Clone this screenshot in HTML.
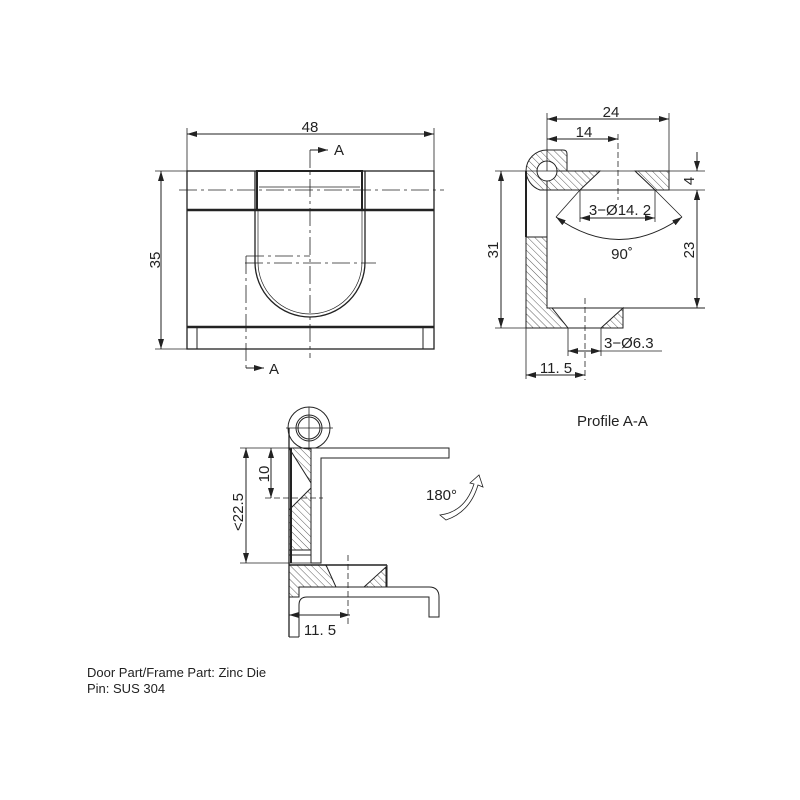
<!DOCTYPE html>
<html><head><meta charset="utf-8"><style>
html,body{margin:0;padding:0;background:#fff}
svg{display:block}
text{font-family:"Liberation Sans",sans-serif;fill:#222}
</style></head><body>
<svg width="800" height="800" viewBox="0 0 800 800" xmlns="http://www.w3.org/2000/svg">
<defs>
<pattern id="h" patternUnits="userSpaceOnUse" width="5" height="5" patternTransform="rotate(-45)">
<line x1="0" y1="0" x2="0" y2="5" stroke="#333" stroke-width="0.8"/>
</pattern>
<marker id="a" viewBox="0 0 10 6" refX="10" refY="3" markerWidth="10" markerHeight="6" orient="auto-start-reverse" markerUnits="userSpaceOnUse">
<path d="M0,0 L10,3 L0,6z" fill="#222"/></marker>
</defs>
<g stroke="#222" fill="none" stroke-width="1">
<!-- FRONT VIEW -->
<rect x="187" y="171" width="247" height="178" stroke-width="1.3"/>
<line x1="187" y1="210" x2="434" y2="210" stroke-width="2.5"/>
<line x1="187" y1="327" x2="434" y2="327" stroke-width="2.5"/>
<line x1="197" y1="327" x2="197" y2="349"/>
<line x1="423" y1="327" x2="423" y2="349"/>
<rect x="257" y="171" width="105" height="39" stroke-width="2"/>
<line x1="259" y1="187" x2="360" y2="187" stroke-width="0.8"/>
<path d="M255,171 V262 A55,55 0 0 0 365,262 V171" stroke-width="1.3"/>
<path d="M258,210 V262 A52,52 0 0 0 362,262 V210" stroke-width="0.7"/>
<g stroke-dasharray="18,4,3,4" stroke-width="0.8">
<line x1="179" y1="190" x2="444" y2="190"/>
<line x1="245" y1="263" x2="376" y2="263"/>
<line x1="310" y1="150" x2="310" y2="358"/>
<line x1="246" y1="256" x2="246" y2="368"/>
</g>
<line x1="246" y1="256" x2="310" y2="256" stroke-dasharray="18,4,3,4" stroke-width="0.8"/>
<line x1="310" y1="150" x2="328" y2="150" marker-end="url(#a)"/>
<line x1="246" y1="368" x2="264" y2="368" marker-end="url(#a)"/>
<line x1="187" y1="128" x2="187" y2="171" stroke-width="0.8"/>
<line x1="434" y1="128" x2="434" y2="171" stroke-width="0.8"/>
<line x1="187" y1="134" x2="434" y2="134" marker-start="url(#a)" marker-end="url(#a)"/>
<line x1="155" y1="171" x2="187" y2="171" stroke-width="0.8"/>
<line x1="155" y1="349" x2="187" y2="349" stroke-width="0.8"/>
<line x1="161" y1="171" x2="161" y2="349" marker-start="url(#a)" marker-end="url(#a)"/>

<!-- PROFILE A-A -->
<path d="M547,171 H600 L580,190 H547 Z" fill="url(#h)"/>
<path d="M635,171 H669 V190 H655 Z" fill="url(#h)"/>
<path d="M526,171 A21,21 0 0 1 547,150 H563 Q567,150 567,154 V171 H547 V190 H540 A21,21 0 0 1 526,171 Z" fill="url(#h)"/>
<circle cx="547" cy="171" r="10" fill="#fff"/>
<path d="M526,237 H547 V308 H552 L568,328 H526 Z" fill="url(#h)"/>
<path d="M601,328 L623,308 V328 Z" fill="url(#h)"/>
<line x1="526" y1="171" x2="526" y2="237" stroke-width="2"/>
<line x1="526" y1="237" x2="547" y2="237"/>
<line x1="547" y1="190" x2="547" y2="308"/>
<line x1="547" y1="190" x2="669" y2="190"/>
<line x1="547" y1="308" x2="705" y2="308"/>
<line x1="526" y1="328" x2="623" y2="328"/>
<line x1="495" y1="171" x2="705" y2="171" stroke-width="0.8"/>
<line x1="669" y1="190" x2="705" y2="190" stroke-width="0.8"/>
<line x1="495" y1="328" x2="526" y2="328" stroke-width="0.8"/>
<line x1="547" y1="113" x2="547" y2="171" stroke-width="0.8"/>
<line x1="669" y1="113" x2="669" y2="171" stroke-width="0.8"/>
<line x1="547" y1="119" x2="669" y2="119" marker-start="url(#a)" marker-end="url(#a)"/>
<line x1="547" y1="139" x2="618" y2="139" marker-start="url(#a)" marker-end="url(#a)"/>
<line x1="618" y1="134" x2="618" y2="200" stroke-dasharray="6,3" stroke-width="0.8"/>
<line x1="501" y1="171" x2="501" y2="328" marker-start="url(#a)" marker-end="url(#a)"/>
<line x1="697" y1="152" x2="697" y2="171" marker-end="url(#a)"/>
<line x1="697" y1="200" x2="697" y2="190" marker-end="url(#a)"/>
<line x1="697" y1="190" x2="697" y2="308" marker-start="url(#a)" marker-end="url(#a)"/>
<line x1="580" y1="190" x2="556" y2="217" stroke-width="0.8"/>
<line x1="655" y1="190" x2="682" y2="217" stroke-width="0.8"/>
<path d="M556,217 Q619,262 682,217" marker-start="url(#a)" marker-end="url(#a)"/>
<line x1="580" y1="190" x2="580" y2="222" stroke-width="0.8"/>
<line x1="655" y1="190" x2="655" y2="222" stroke-width="0.8"/>
<line x1="580" y1="218" x2="655" y2="218" marker-start="url(#a)" marker-end="url(#a)"/>
<line x1="585" y1="298" x2="585" y2="380" stroke-dasharray="6,3" stroke-width="0.8"/>
<line x1="568" y1="328" x2="568" y2="356" stroke-width="0.8"/>
<line x1="601" y1="328" x2="601" y2="356" stroke-width="0.8"/>
<line x1="568" y1="351" x2="601" y2="351" marker-start="url(#a)" marker-end="url(#a)"/>
<line x1="601" y1="351" x2="662" y2="351" stroke-width="0.8"/>
<line x1="526" y1="328" x2="526" y2="379" stroke-width="0.8"/>
<line x1="526" y1="375" x2="585" y2="375" marker-start="url(#a)" marker-end="url(#a)"/>

<!-- BOTTOM VIEW -->
<circle cx="309" cy="428" r="21"/>
<circle cx="309" cy="428" r="13"/>
<circle cx="309" cy="428" r="11"/>
<line x1="286" y1="428" x2="333" y2="428" stroke-width="0.8"/>
<line x1="309" y1="407" x2="309" y2="449" stroke-width="0.8"/>
<path d="M289,448 H311 V483 Z" fill="url(#h)"/>
<path d="M289,510 L311,488 V550 H289 Z" fill="url(#h)"/>
<rect x="289" y="550" width="22" height="5"/>
<path d="M289,565 H326 L336,587 H299 V597 H289 Z" fill="url(#h)"/>
<path d="M364,587 L386,567 V587 Z" fill="url(#h)"/>
<line x1="289" y1="428" x2="289" y2="637" stroke-width="1.3"/>
<line x1="291" y1="448" x2="291" y2="563" stroke-width="2"/>
<path d="M299,637 V605 Q299,597 307,597 H429 V617 H439 V597 Q439,587 429,587 H299"/>
<line x1="289" y1="637" x2="299" y2="637"/>
<path d="M311,448 H449 V458 H321 V563 H311 Z" fill="#fff"/>
<line x1="311" y1="448" x2="311" y2="563"/>
<line x1="289" y1="565" x2="387" y2="565" stroke-width="1.5"/>
<line x1="387" y1="565" x2="387" y2="587"/>
<line x1="240" y1="448" x2="311" y2="448" stroke-width="0.8"/>
<line x1="265" y1="498" x2="323" y2="498" stroke-dasharray="6,3" stroke-width="0.8"/>
<line x1="240" y1="563" x2="311" y2="563" stroke-width="0.8"/>
<line x1="246" y1="448" x2="246" y2="563" marker-start="url(#a)" marker-end="url(#a)"/>
<line x1="271" y1="448" x2="271" y2="498" marker-start="url(#a)" marker-end="url(#a)"/>
<line x1="348" y1="555" x2="348" y2="625" stroke-dasharray="6,3" stroke-width="0.8"/>
<line x1="289" y1="615" x2="350" y2="615" marker-start="url(#a)" marker-end="url(#a)"/>
<path d="M440,515 Q465,512 474,484 L470,483 L479,475 L483,487 L478,485 Q470,512 446,520 Z" stroke-width="0.8"/>
</g>
<g font-size="15">
<text x="310" y="132" text-anchor="middle">48</text>
<text x="334" y="155">A</text>
<text x="269" y="374">A</text>
<text transform="translate(160,260) rotate(-90)" text-anchor="middle">35</text>
<text x="611" y="117" text-anchor="middle">24</text>
<text x="584" y="137" text-anchor="middle">14</text>
<text x="620" y="215" text-anchor="middle">3−Ø14. 2</text>
<text x="622" y="259" text-anchor="middle">90˚</text>
<text transform="translate(498,250) rotate(-90)" text-anchor="middle">31</text>
<text transform="translate(694,181) rotate(-90)" text-anchor="middle">4</text>
<text transform="translate(694,250) rotate(-90)" text-anchor="middle">23</text>
<text x="604" y="348">3−Ø6.3</text>
<text x="556" y="373" text-anchor="middle">11. 5</text>
<text x="577" y="426">Profile A-A</text>
<text transform="translate(243,512) rotate(-90)" text-anchor="middle">&lt;22.5</text>
<text transform="translate(269,474) rotate(-90)" text-anchor="middle">10</text>
<text x="426" y="500">180°</text>
<text x="320" y="635" text-anchor="middle">11. 5</text>
</g>
<g font-size="13">
<text x="87" y="677">Door Part/Frame Part: Zinc Die</text>
<text x="87" y="693">Pin: SUS 304</text>
</g>
</svg>
</body></html>
